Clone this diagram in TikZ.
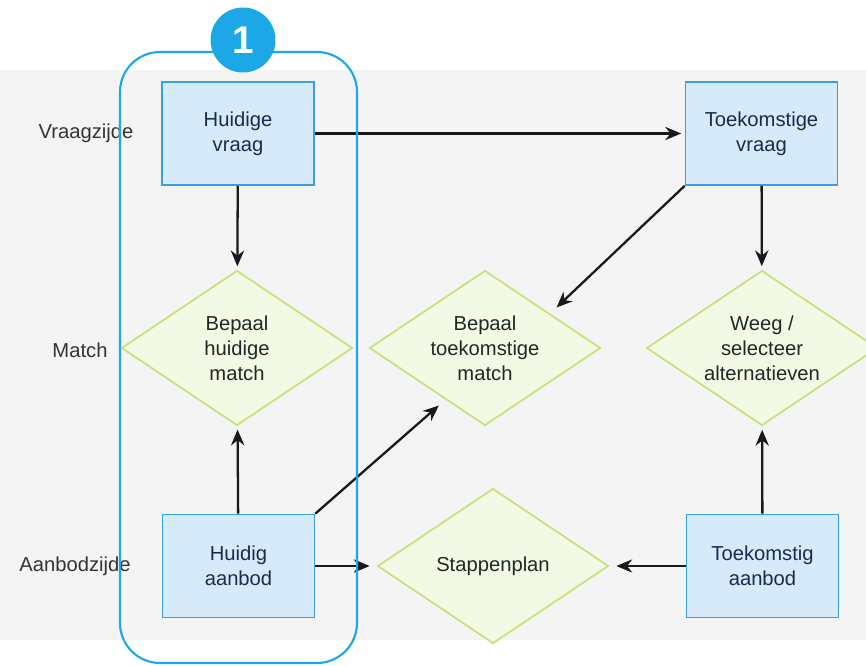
\documentclass[tikz,border=0pt]{standalone}
\usepackage{fontspec}
\setmainfont{Liberation Sans}
\usetikzlibrary{shapes.geometric,arrows.meta,calc}
\definecolor{boxfill}{HTML}{D6EAFA}
\definecolor{boxline}{HTML}{3A9FDF}
\definecolor{ruitfill}{HTML}{F2F9E4}
\definecolor{ruitline}{HTML}{C9E07C}
\definecolor{kader}{HTML}{1CA8E6}
\definecolor{achter}{HTML}{F4F4F4}
\definecolor{tekstblauw}{HTML}{1B2B4B}
\begin{document}
\begin{tikzpicture}[x=0.02cm,y=-0.02cm,
    txt/.style={font=\fontsize{11.5}{14.2}\selectfont, align=center},
    box/.style={txt, draw=boxline, fill=boxfill, line width=1pt, text=tekstblauw,
      minimum width=3.04cm, minimum height=2.06cm},
    ruit/.style={txt, diamond, draw=ruitline, fill=ruitfill, line width=1pt, text=black!85,
      inner sep=0pt, aspect=1.5, minimum width=4.62cm, minimum height=3.1cm},
    zijde/.style={txt, text=black!80},
    conn/.style={line width=1.3pt, black!90, -{Stealth[length=9pt,width=7.5pt]}, shorten >=2pt}]
  \clip (0,0) rectangle (866,666);
  \fill[white] (0,0) rectangle (866,666);
  \fill[achter] (0,70) rectangle (866,640);

  \node[zijde] (vz) at (86,133) {Vraagzijde};
  \node[zijde] (mz) at (80,350) {Match};
  \node[zijde] (az) at (75,566) {Aanbodzijde};

  \node[box] (hvraag) at (238,133.5) {Huidige\\vraag};
  \node[box] (tvraag) at (761.5,133.5) {Toekomstige\\vraag};
  \node[box] (haanbod) at (238.5,566) {Huidig\\aanbod};
  \node[box] (taanbod) at (762.5,566) {Toekomstig\\aanbod};

  \node[ruit] (hmatch) at (237,348) {Bepaal\\huidige\\match};
  \node[ruit] (tmatch) at (485,348) {Bepaal\\toekomstige\\match};
  \node[ruit] (weeg) at (762,348) {Weeg /\\selecteer\\alternatieven};
  \node[ruit] (stap) at (493,566) {Stappenplan};

  \draw[conn] (hvraag) -- (tvraag);
  \draw[conn] (hvraag) -- (hmatch);
  \draw[conn] (haanbod) -- (hmatch);
  \draw[conn] (tvraag) -- (weeg);
  \draw[conn] (taanbod) -- (weeg);
  \draw[conn, shorten >=4pt] (haanbod) -- (stap);
  \draw[conn, shorten >=4pt] (taanbod) -- (stap);
  \draw[conn, shorten >=5pt] (haanbod.north east) -- ($(tmatch.west)!0.66!(tmatch.south)$);
  \draw[conn, shorten >=5pt] (tvraag.south west) -- ($(tmatch.north)!0.56!(tmatch.east)$);

  % kader rond de huidige situatie
  \draw[kader, line width=1.2pt, rounded corners=0.8cm] (120,52) rectangle (357,663);
  \node[circle, fill=kader, text=white, minimum size=1.3cm, inner sep=0pt,
    font=\fontsize{22}{22}\bfseries\selectfont] (nr) at (243,40) {1};
\end{tikzpicture}
\end{document}
